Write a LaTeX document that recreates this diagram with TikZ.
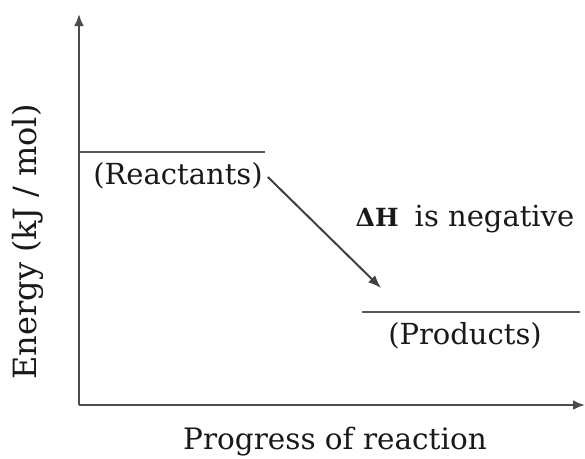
\documentclass[tikz,border=0pt]{standalone}
\usepackage{fontspec}
\setmainfont{DejaVu Serif}
\usetikzlibrary{arrows.meta}
\begin{document}
\begin{tikzpicture}[x=1pt, y=-1pt,
  axis/.style={draw=black!70, line width=2.4pt, -{Latex[length=12pt,width=10pt]}},
  level/.style={draw=black!65, line width=2.4pt},
  change/.style={draw=black!75, line width=2pt, -{Latex[length=13pt,width=10pt]}},
  lbl/.style={text=black!90, inner sep=1pt, font=\fontsize{29}{34}\selectfont}]
  \useasboundingbox (0,0) rectangle (585,458);
  % axes
  \coordinate (O) at (79,405);
  \coordinate (ytip) at (79,14);
  \coordinate (xtip) at (585,405);
  \draw[axis] (O) -- (ytip);
  \draw[axis] (O) -- (xtip);
  % levels
  \coordinate (r1) at (79,152);
  \coordinate (r2) at (265,152);
  \coordinate (p1) at (362,312);
  \coordinate (p2) at (580,312);
  \draw[level] (r1) -- (r2);
  \draw[level] (p1) -- (p2);
  % labels
  \node[lbl] (react) at (178,176) {(Reactants)};
  \node[lbl] (prod) at (465,336) {(Products)};
  \node[lbl, anchor=base] (dh) at (465,226) {{\fontsize{25}{30}\selectfont\bfseries ΔH}\hspace{16pt}is negative};
  \node[lbl, rotate=90, font=\fontsize{32}{38}\selectfont] (ylab) at (28,242) {Energy (kJ / mol)};
  \node[lbl, anchor=base, font=\fontsize{29.5}{35}\selectfont] (xlab) at (335,449) {Progress of reaction};
  % enthalpy change
  \coordinate (arrend) at (381,288);
  \draw[change] (react.east) ++(4,1) -- (arrend);
\end{tikzpicture}
\end{document}
